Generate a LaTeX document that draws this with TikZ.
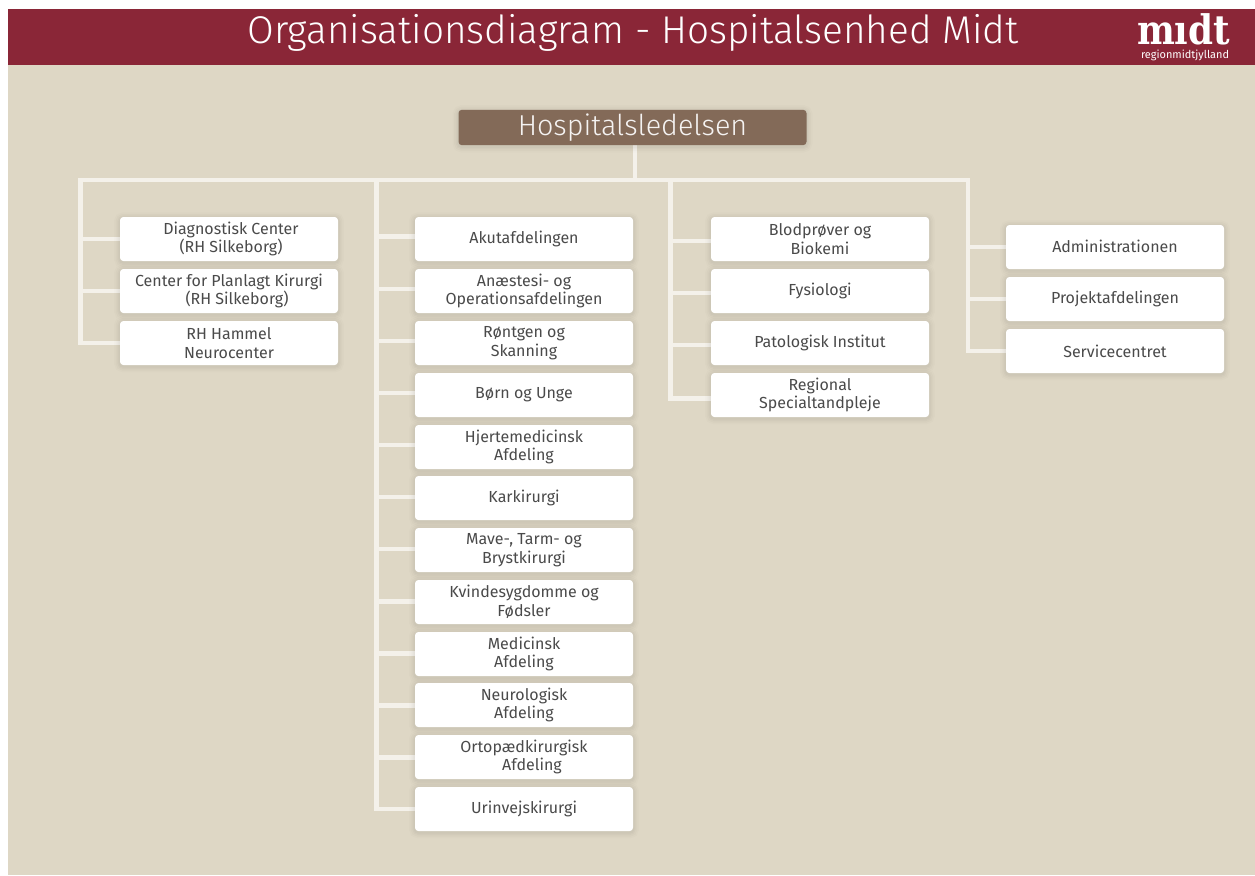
\documentclass[tikz,border=0pt]{standalone}
\usepackage{fontspec}
\setmainfont{Fira Sans Light}
\newfontfamily\bodyfont{Fira Sans}
\newfontfamily\logofont{DejaVu Serif}
\usetikzlibrary{calc,backgrounds}
\definecolor{bordeaux}{HTML}{8A2637}
\definecolor{beige}{HTML}{DED7C5}
\definecolor{brownbox}{HTML}{836A58}
\definecolor{linecol}{HTML}{F4F1EA}
\definecolor{txt}{HTML}{4A4A4A}
\tikzset{
  x=0.75pt,y=-0.75pt,
  softshadow/.style={
    preaction={draw=black,line width=9pt,opacity=0.012,transform canvas={yshift=-1pt}},
    preaction={draw=black,line width=6.5pt,opacity=0.015,transform canvas={yshift=-1pt}},
    preaction={draw=black,line width=4pt,opacity=0.02,transform canvas={yshift=-1pt}},
    preaction={draw=black,line width=2pt,opacity=0.02,transform canvas={yshift=-1pt}}},
  unit/.style={softshadow,fill=white,rounded corners=2.5pt,minimum width=163.5pt,minimum height=33pt,
    inner sep=0pt,align=center,text=txt,font=\bodyfont\fontsize{12pt}{13.9pt}\selectfont},
  bus/.style={draw=linecol,line width=3.4pt},
}
\begin{document}
\begin{tikzpicture}
\useasboundingbox (0,0) rectangle (1255,875);
\node[text=white,font=\fontsize{29pt}{32pt}\selectfont,anchor=center] (title) at (633,33) {Organisationsdiagram - Hospitalsenhed Midt};
\node[text=white,font=\logofont\bfseries\fontsize{30.5pt}{30.5pt}\selectfont,anchor=base,xscale=0.88,inner sep=0pt] (logo) at (1183.5,44.5) {mıdt};
\node[text=white,font=\bodyfont\fontsize{8.2pt}{8.2pt}\selectfont,anchor=base,inner sep=0pt,text height=5.5pt,text depth=1pt] (region) at (1185,58) {regionmidtjylland};

\node[softshadow,fill=brownbox,rounded corners=2.5pt,minimum width=261pt,minimum height=26.5pt,inner sep=0pt,text=white!92!brownbox,
  font=\fontsize{21.6pt}{24pt}\selectfont] (top) at (632.5,127.5) {Hospitalsledelsen};

% bus corners
\coordinate (j0) at (635,180);
\coordinate (b1) at (80.5,180);
\coordinate (b2) at (376.5,180);
\coordinate (b3) at (670.5,180);
\coordinate (b4) at (968,180);

% boxes
\foreach \n/\y/\t in {a1/239/{\hspace*{3pt}Diagnostisk Center\\\hspace*{3pt}(RH Silkeborg)},a2/291/{Center for Planlagt Kirurgi\\\hspace*{12pt}(RH Silkeborg)},a3/343/{RH Hammel\\Neurocenter}}
  \node[unit] (\n) at (229,\y) {\t};
\foreach \n/\y/\t in {c1/239/{Akutafdelingen},c2/291/{Anæstesi- og\\Operationsafdelingen},c3/343/{Røntgen og\\Skanning},c4/395/{Børn og Unge},c5/447/{Hjertemedicinsk\\Afdeling},c6/498/{Karkirurgi},c7/550/{Mave-, Tarm- og\\Brystkirurgi},c8/602/{Kvindesygdomme og\\Fødsler},c9/654/{Medicinsk\\Afdeling},c10/705/{Neurologisk\\Afdeling},c11/757/{Ortopædkirurgisk\\\hspace*{12pt}Afdeling},c12/809/{Urinvejskirurgi}}
  \node[unit] (\n) at (524,\y) {\t};
\foreach \n/\y/\t in {d1/239/{Blodprøver og\\Biokemi},d2/291/{Fysiologi},d3/343/{Patologisk Institut},d4/395/{Regional\\Specialtandpleje}}
  \node[unit] (\n) at (820,\y) {\t};
\foreach \n/\y/\t in {e1/247/{\raisebox{1.5pt}{Administrationen}},e2/299/{\raisebox{1.5pt}{Projektafdelingen}},e3/351/{Servicecentret}}
  \node[unit] (\n) at (1115,\y) {\t};

% connectors and ground, under the boxes and their shadows
\begin{pgfonlayer}{background}
\fill[white] (0,0) rectangle (1255,875);
\fill[beige] (8,65) rectangle (1255,875);
\fill[bordeaux] (8,8.5) rectangle (1255,65);
\draw[bus] (top.south -| j0) -- (j0);
\draw[bus,line join=miter] (a3.west) -| (b1) -- (b4) |- (e3.west);
\draw[bus] (b2) |- (c12.west);
\draw[bus] ($(d4.west)+(0,3.5)$) -| (b3);
\foreach \n in {a1,a2} \draw[bus] (\n.west) -- (\n.west -| b1);
\foreach \n/\o in {c1/-2.3,c2/-2.2,c3/-2,c4/-2,c5/-2,c6/-1,c7/-1,c8/-0.5,c9/-0.5,c10/0.5,c11/0.5}
  \draw[bus] ($(\n.west)+(0,\o)$) -- ($(\n.west -| b2)+(0,\o)$);
\foreach \n in {d1,d2,d3} \draw[bus] ($(\n.west)+(0,2)$) -- ($(\n.west -| b3)+(0,2)$);
\foreach \n in {e1,e2} \draw[bus] (\n.west) -- (\n.west -| b4);
\end{pgfonlayer}
\end{tikzpicture}
\end{document}
